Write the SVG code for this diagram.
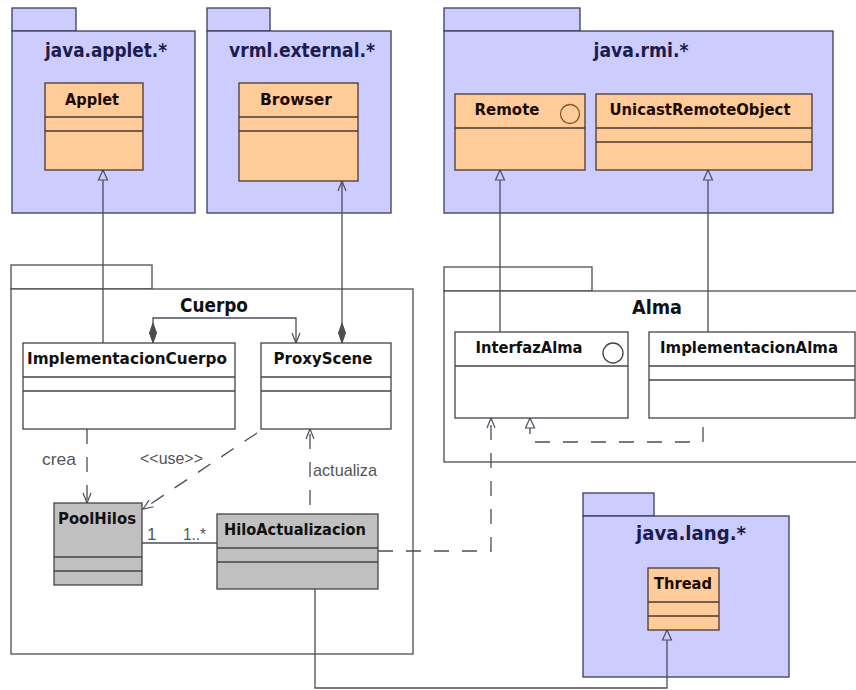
<svg xmlns="http://www.w3.org/2000/svg" width="856" height="690" viewBox="0 0 856 690">
<defs>
<style>
.pkg{fill:#ccccff;stroke:#3d3d5c;stroke-width:1.3}
.pkgw{fill:#ffffff;stroke:#4d4d4d;stroke-width:1.3}
.cls{fill:#ffcc99;stroke:#4a3a2e;stroke-width:1.3}
.clsw{fill:#ffffff;stroke:#444444;stroke-width:1.3}
.clsg{fill:#c0c0c0;stroke:#444444;stroke-width:1.3}
.sep{stroke:#4a3a2e;stroke-width:1.3}
.sepw{stroke:#444444;stroke-width:1.3}
.ptitle{font-family:"DejaVu Sans",Verdana,sans-serif;font-weight:bold;font-size:19px;fill:#1c1c4c;text-anchor:middle}
.cname{font-family:"DejaVu Sans",Verdana,sans-serif;font-weight:bold;font-size:16.5px;fill:#1a0a00;text-anchor:middle}
.lbl{font-family:"Liberation Sans",Arial,sans-serif;font-size:17px;fill:#555555}
.conn{fill:none;stroke:#4d4d5d;stroke-width:1.3}
.dash{stroke-dasharray:15 13}
</style>
<marker id="tri" viewBox="0 0 12 12" refX="11" refY="6" markerWidth="12" markerHeight="12" markerUnits="userSpaceOnUse" orient="auto"><path d="M1,1.5 L11,6 L1,10.5 Z" fill="#ccccff" stroke="#4d4d5d" stroke-width="1.2"/></marker>
<marker id="triW" viewBox="0 0 12 12" refX="11" refY="6" markerWidth="12" markerHeight="12" markerUnits="userSpaceOnUse" orient="auto"><path d="M1,1.5 L11,6 L1,10.5 Z" fill="#ffffff" stroke="#4d4d5d" stroke-width="1.2"/></marker>
<marker id="open" viewBox="0 0 12 10" refX="11" refY="5" markerWidth="12" markerHeight="10" markerUnits="userSpaceOnUse" orient="auto"><path d="M1,1 L11,5 L1,9" fill="none" stroke="#4d4d5d" stroke-width="1.2"/></marker>
<marker id="dia" viewBox="0 0 22 10" refX="1" refY="5" markerWidth="22" markerHeight="10" markerUnits="userSpaceOnUse" orient="auto"><path d="M1,5 L11,1.5 L21,5 L11,8.5 Z" fill="#4d4d4d" stroke="#4d4d4d" stroke-width="1"/></marker>
</defs>

<g id="pkg-java-applet">
<rect class="pkg" x="12" y="8" width="64" height="23"/>
<rect class="pkg" x="12" y="31" width="183" height="182"/>
<text class="ptitle" x="106" y="57" textLength="122" lengthAdjust="spacingAndGlyphs">java.applet.*</text>
</g>
<g id="pkg-vrml-external">
<rect class="pkg" x="207" y="8" width="63" height="23"/>
<rect class="pkg" x="207" y="31" width="184" height="182"/>
<text class="ptitle" x="302" y="57" textLength="146" lengthAdjust="spacingAndGlyphs">vrml.external.*</text>
</g>
<g id="pkg-java-rmi">
<rect class="pkg" x="444" y="8" width="136" height="23"/>
<rect class="pkg" x="444" y="31" width="389" height="182"/>
<text class="ptitle" x="641" y="57" textLength="95" lengthAdjust="spacingAndGlyphs">java.rmi.*</text>
</g>
<g id="pkg-cuerpo">
<rect class="pkgw" x="11" y="265" width="141" height="24"/>
<rect class="pkgw" x="11" y="289" width="402" height="365"/>
<text class="ptitle" x="214" y="312" textLength="68" lengthAdjust="spacingAndGlyphs" style="fill:#111111">Cuerpo</text>
</g>
<g id="pkg-alma">
<rect class="pkgw" x="444" y="267" width="148" height="24"/>
<rect class="pkgw" x="444" y="291" width="430" height="171"/>
<text class="ptitle" x="657" y="314" textLength="50" lengthAdjust="spacingAndGlyphs" style="fill:#111111">Alma</text>
</g>
<g id="pkg-java-lang">
<rect class="pkg" x="583" y="493" width="71" height="23"/>
<rect class="pkg" x="583" y="516" width="206" height="161"/>
<text class="ptitle" x="691" y="540" textLength="110" lengthAdjust="spacingAndGlyphs">java.lang.*</text>
</g>

<g id="connectors">
<path class="conn" d="M103 343 V170" marker-end="url(#tri)"/>
<path class="conn" d="M342 343 V181" marker-start="url(#dia)" marker-end="url(#open)"/>
<path class="conn" d="M153 343 V318 H296 V343" marker-start="url(#dia)" marker-end="url(#open)"/>
<path class="conn" d="M500 332 V170" marker-end="url(#tri)"/>
<path class="conn" d="M708 332 V170" marker-end="url(#tri)"/>
<path class="conn dash" d="M703 427 V442 H530 V418" marker-end="url(#triW)"/>
<path class="conn dash" d="M378 551 H491 V418" marker-end="url(#open)"/>
<path class="conn dash" d="M87 429 V503" marker-end="url(#open)"/>
<path class="conn dash" d="M257 433 L143 509" marker-end="url(#open)"/>
<path class="conn dash" d="M310 514 V429" style="stroke-dashoffset:19" marker-end="url(#open)"/>
<path class="conn" d="M142 543 H217"/>
<path class="conn" d="M315 589 V688 H667 V630" marker-end="url(#tri)"/>
<text class="lbl" x="42" y="465" textLength="34" lengthAdjust="spacingAndGlyphs">crea</text>
<text class="lbl" x="140" y="464" textLength="63" lengthAdjust="spacingAndGlyphs">&lt;&lt;use&gt;&gt;</text>
<text class="lbl" x="313" y="476" textLength="64" lengthAdjust="spacingAndGlyphs">actualiza</text>
<text class="lbl" x="147" y="540">1</text>
<text class="lbl" x="183" y="540" textLength="23" lengthAdjust="spacingAndGlyphs">1..*</text>
</g>

<g id="cls-applet">
<rect class="cls" x="45" y="83" width="98" height="87"/>
<line class="sep" x1="45" y1="117" x2="143" y2="117"/>
<line class="sep" x1="45" y1="131" x2="143" y2="131"/>
<text class="cname" x="92" y="105" textLength="54" lengthAdjust="spacingAndGlyphs">Applet</text>
</g>
<g id="cls-browser">
<rect class="cls" x="239" y="83" width="119" height="98"/>
<line class="sep" x1="239" y1="117" x2="358" y2="117"/>
<line class="sep" x1="239" y1="131" x2="358" y2="131"/>
<text class="cname" x="296" y="105" textLength="72" lengthAdjust="spacingAndGlyphs">Browser</text>
</g>
<g id="cls-remote">
<rect class="cls" x="455" y="94" width="130" height="76"/>
<line class="sep" x1="455" y1="128" x2="585" y2="128"/>
<text class="cname" x="507" y="115" textLength="65" lengthAdjust="spacingAndGlyphs">Remote</text>
<circle cx="570" cy="114" r="9.5" fill="none" stroke="#7a5a30" stroke-width="1.3"/>
</g>
<g id="cls-unicastremoteobject">
<rect class="cls" x="596" y="94" width="216" height="76"/>
<line class="sep" x1="596" y1="128" x2="812" y2="128"/>
<line class="sep" x1="596" y1="142" x2="812" y2="142"/>
<text class="cname" x="700" y="115" textLength="181" lengthAdjust="spacingAndGlyphs">UnicastRemoteObject</text>
</g>
<g id="cls-implementacioncuerpo">
<rect class="clsw" x="23" y="343" width="212" height="86"/>
<line class="sepw" x1="23" y1="377" x2="235" y2="377"/>
<line class="sepw" x1="23" y1="391" x2="235" y2="391"/>
<text class="cname" x="127" y="364" textLength="200" lengthAdjust="spacingAndGlyphs" style="fill:#111111">ImplementacionCuerpo</text>
</g>
<g id="cls-proxyscene">
<rect class="clsw" x="261" y="343" width="130" height="86"/>
<line class="sepw" x1="261" y1="377" x2="391" y2="377"/>
<line class="sepw" x1="261" y1="391" x2="391" y2="391"/>
<text class="cname" x="323" y="364" textLength="99" lengthAdjust="spacingAndGlyphs" style="fill:#111111">ProxyScene</text>
</g>
<g id="cls-interfazalma">
<rect class="clsw" x="455" y="332" width="173" height="86"/>
<line class="sepw" x1="455" y1="366" x2="628" y2="366"/>
<text class="cname" x="529" y="353" textLength="107" lengthAdjust="spacingAndGlyphs" style="fill:#111111">InterfazAlma</text>
<circle cx="613" cy="353" r="10" fill="none" stroke="#444444" stroke-width="1.3"/>
</g>
<g id="cls-implementacionalma">
<rect class="clsw" x="649" y="332" width="206" height="86"/>
<line class="sepw" x1="649" y1="366" x2="855" y2="366"/>
<line class="sepw" x1="649" y1="380" x2="855" y2="380"/>
<text class="cname" x="749" y="353" textLength="178" lengthAdjust="spacingAndGlyphs" style="fill:#111111">ImplementacionAlma</text>
</g>
<g id="cls-poolhilos">
<rect class="clsg" x="54" y="503" width="88" height="82"/>
<line class="sepw" x1="54" y1="557" x2="142" y2="557"/>
<line class="sepw" x1="54" y1="571" x2="142" y2="571"/>
<text class="cname" x="97" y="524" textLength="78" lengthAdjust="spacingAndGlyphs" style="fill:#111111">PoolHilos</text>
</g>
<g id="cls-hiloactualizacion">
<rect class="clsg" x="217" y="514" width="161" height="75"/>
<line class="sepw" x1="217" y1="548" x2="378" y2="548"/>
<line class="sepw" x1="217" y1="562" x2="378" y2="562"/>
<text class="cname" x="295" y="535" textLength="142" lengthAdjust="spacingAndGlyphs" style="fill:#111111">HiloActualizacion</text>
</g>
<g id="cls-thread">
<rect class="cls" x="648" y="568" width="71" height="62"/>
<line class="sep" x1="648" y1="602" x2="719" y2="602"/>
<line class="sep" x1="648" y1="616" x2="719" y2="616"/>
<text class="cname" x="683" y="589" textLength="58" lengthAdjust="spacingAndGlyphs">Thread</text>
</g>
</svg>
